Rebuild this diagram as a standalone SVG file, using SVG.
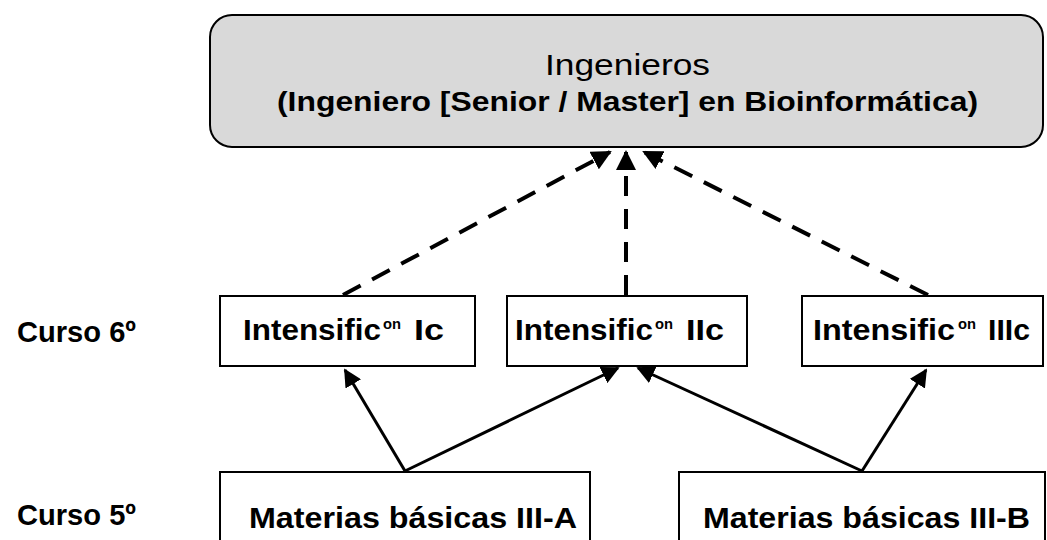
<svg xmlns="http://www.w3.org/2000/svg" width="1047" height="540" viewBox="0 0 1047 540">
<defs>
<style>
.box{fill:#fff;stroke:#000;stroke-width:2}
.top{fill:#d9d9d9;stroke:#000;stroke-width:2}
.t{font-family:"Liberation Sans",Arial,sans-serif;font-weight:bold;font-size:30px;fill:#000}
.c{font-family:"Liberation Sans",Arial,sans-serif;font-weight:bold;font-size:28px;fill:#000}
.r{font-family:"Liberation Sans",Arial,sans-serif;font-size:30px;fill:#000}
.sup{font-family:"Liberation Sans",Arial,sans-serif;font-weight:bold;font-size:15px;fill:#000}
.solid{stroke:#000;stroke-width:3;fill:none;marker-end:url(#ah)}
.dash{stroke:#000;stroke-width:4;fill:none;stroke-dasharray:20 13;marker-end:url(#ah2)}
</style>
<marker id="ah" viewBox="0 0 10 10" refX="9" refY="5" markerWidth="6" markerHeight="6" orient="auto" markerUnits="strokeWidth">
<path d="M0,0 L10,5 L0,10 z" fill="#000"/>
</marker>
<marker id="ah2" viewBox="0 0 10 10" refX="9" refY="5" markerWidth="5" markerHeight="5" orient="auto" markerUnits="strokeWidth">
<path d="M0,0 L10,5 L0,10 z" fill="#000"/>
</marker>
</defs>

<g id="connectors">
<line class="dash" x1="343" y1="295" x2="610" y2="152"/>
<line class="dash" x1="626" y1="295" x2="626" y2="152"/>
<line class="dash" x1="928" y1="295" x2="644" y2="152"/>
<line class="solid" x1="405" y1="471" x2="345" y2="370"/>
<line class="solid" x1="405" y1="471" x2="618" y2="368"/>
<line class="solid" x1="862" y1="471" x2="638" y2="368"/>
<line class="solid" x1="862" y1="471" x2="926" y2="370"/>
</g>

<g id="ingenieros">
<rect class="top" x="210" y="15" width="833" height="132" rx="22" ry="22"/>
<text class="r" x="545" y="75" textLength="165" lengthAdjust="spacingAndGlyphs">Ingenieros</text>
<text class="c" x="277" y="111" textLength="701" lengthAdjust="spacingAndGlyphs">(Ingeniero [Senior / Master] en Bioinformática)</text>
</g>

<g id="curso6">
<text class="t" x="17" y="342" textLength="119" lengthAdjust="spacingAndGlyphs">Curso 6º</text>
</g>
<g id="curso5">
<text class="t" x="17" y="525" textLength="119" lengthAdjust="spacingAndGlyphs">Curso 5º</text>
</g>

<g id="int1">
<rect class="box" x="220" y="296" width="255" height="70"/>
<text class="t" x="243" y="340" textLength="138" lengthAdjust="spacingAndGlyphs">Intensific</text>
<text class="sup" x="383" y="329" textLength="18" lengthAdjust="spacingAndGlyphs">on</text>
<text class="t" x="414" y="340" textLength="30" lengthAdjust="spacingAndGlyphs">Ic</text>
</g>
<g id="int2">
<rect class="box" x="507" y="296" width="240" height="70"/>
<text class="t" x="515" y="340" textLength="138" lengthAdjust="spacingAndGlyphs">Intensific</text>
<text class="sup" x="655" y="329" textLength="18" lengthAdjust="spacingAndGlyphs">on</text>
<text class="t" x="686" y="340" textLength="38" lengthAdjust="spacingAndGlyphs">IIc</text>
</g>
<g id="int3">
<rect class="box" x="802" y="296" width="241" height="70"/>
<text class="t" x="813" y="340" textLength="142" lengthAdjust="spacingAndGlyphs">Intensific</text>
<text class="sup" x="958" y="329" textLength="18" lengthAdjust="spacingAndGlyphs">on</text>
<text class="t" x="988" y="340" textLength="42" lengthAdjust="spacingAndGlyphs">IIIc</text>
</g>

<g id="matA">
<rect class="box" x="220" y="472" width="370" height="90"/>
<text class="t" x="249" y="528" textLength="328" lengthAdjust="spacingAndGlyphs">Materias básicas III-A</text>
</g>
<g id="matB">
<rect class="box" x="679" y="472" width="366" height="90"/>
<text class="t" x="703" y="528" textLength="327" lengthAdjust="spacingAndGlyphs">Materias básicas III-B</text>
</g>
</svg>
